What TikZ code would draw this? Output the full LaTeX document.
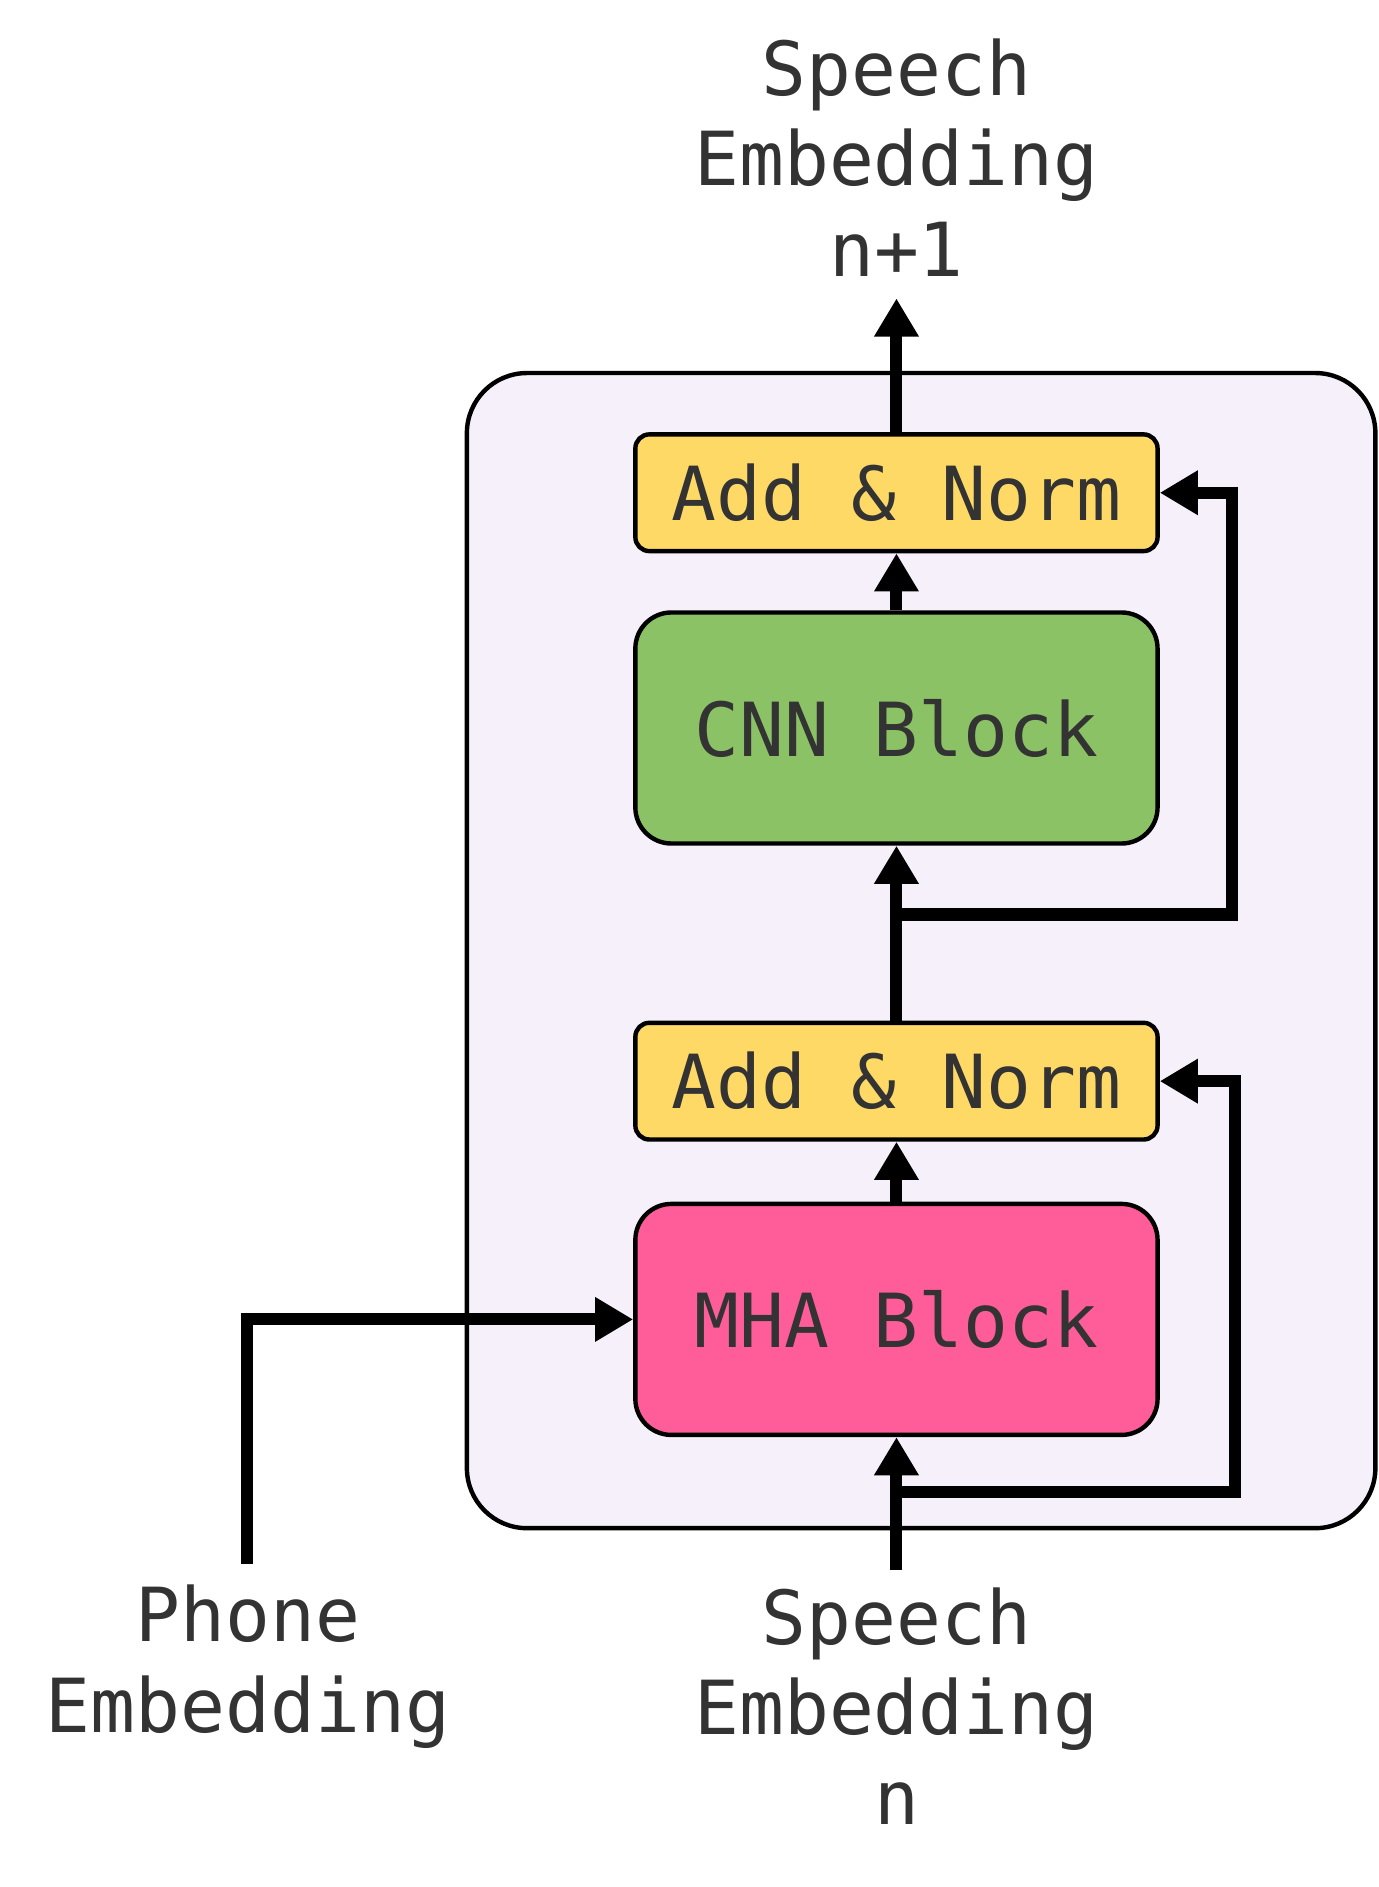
\documentclass[tikz,border=0pt]{standalone}
\usepackage{fontspec}
\newfontfamily\diagmono{DejaVu Sans Mono}
\usetikzlibrary{arrows.meta}
\definecolor{frameFill}{HTML}{F5F0FA}
\definecolor{normFill}{HTML}{FFD966}
\definecolor{cnnFill}{HTML}{8CC266}
\definecolor{mhaFill}{HTML}{FF5C9A}
\definecolor{txt}{HTML}{333333}
\tikzset{
  lbl/.style={font=\diagmono\fontsize{37.2}{45}\selectfont, text=txt, align=center, inner sep=0pt},
  frame/.style={draw=black, line width=2.2pt, fill=frameFill, rounded corners=30pt,
    minimum width=453pt, minimum height=576pt, inner sep=0pt},
  normbox/.style={lbl, draw=black, line width=2.2pt, fill=normFill, rounded corners=7pt,
    minimum width=260.4pt, minimum height=58.2pt},
  bigbox/.style={lbl, draw=black, line width=2.2pt, fill=cnnFill, rounded corners=18pt,
    minimum width=260.4pt, minimum height=115.2pt},
  flow/.style={draw=black, line width=6pt, line join=miter,
    -{Triangle[length=19pt,width=21pt]}},
}
\begin{document}
\begin{tikzpicture}[x=0.6pt,y=-0.6pt]
\useasboundingbox (0,0) rectangle (1146,1568.2);
\node[frame] (frm) at (765.5,790) {};
\node[normbox] (norm2) at (745,409.5) {Add \& Norm};
\node[bigbox] (cnn) at (745,605) {CNN Block};
\node[normbox] (norm1) at (745,898.5) {Add \& Norm};
\node[bigbox, fill=mhaFill] (mha) at (745,1096.5) {MHA Block};
\node[lbl] (outl) at (745,131) {Speech\\Embedding\\n+1};
\node[lbl] (phl) at (206,1385) {Phone\\Embedding};
\node[lbl] (inl) at (745,1418) {Speech\\Embedding\\n};
\coordinate (out) at (745,248);
\coordinate (inS) at (745,1305);
\coordinate (inP) at (205,1300);
\coordinate (s1) at (745,1240);
\coordinate (s2) at (745,760);
\draw[flow] (norm2.north) -- (out);
\draw[flow] (cnn.north) -- (norm2.south);
\draw[flow] (norm1.north) -- (cnn.south);
\draw[flow] (mha.north) -- (norm1.south);
\draw[flow] (inS) -- (mha.south);
\draw[flow] (inP) |- (mha.west);
\draw[flow] (s2) -- (1024,760) |- (norm2.east);
\draw[flow] (s1) -- (1026,1240) |- (norm1.east);
\end{tikzpicture}
\end{document}
